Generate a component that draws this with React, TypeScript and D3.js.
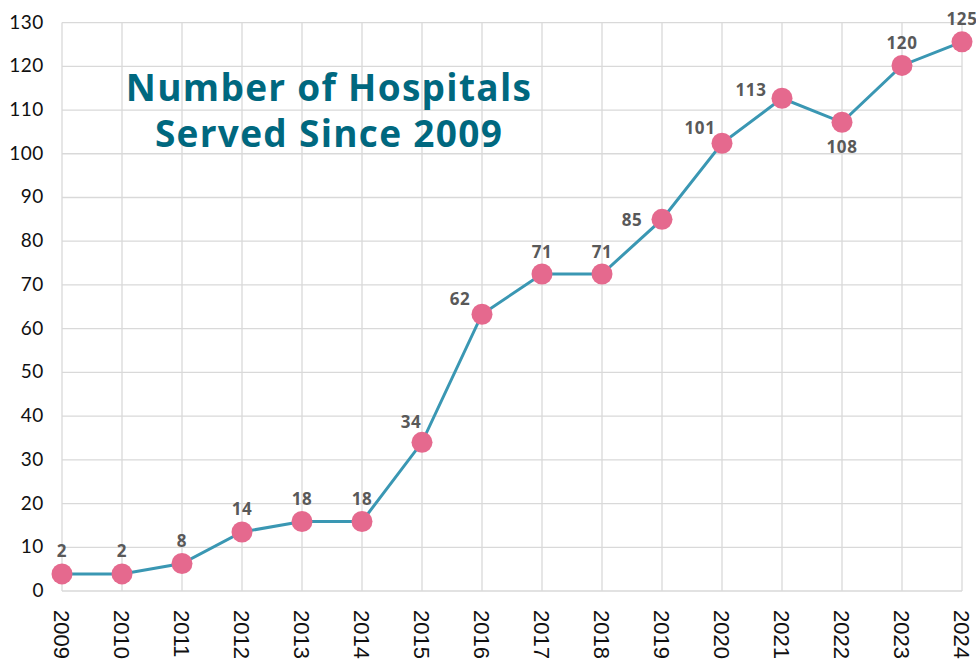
import React from "react";
import * as d3 from "d3";

const years = ["2009","2010","2011","2012","2013","2014","2015","2016","2017","2018","2019","2020","2021","2022","2023","2024"];
const plotted = [3.9, 3.9, 6.3, 13.5, 15.9, 15.9, 34, 63.3, 72.5, 72.5, 85, 102.4, 112.7, 107.2, 120.2, 125.6];
const labels = ["2","2","8","14","18","18","34","62","71","71","85","101","113","108","120","125"];
const labelPos = ["above","above","above","above","above","above","upLeftS","upLeft","above","above","left","upLeft","upLeft2","below","above","above"];
const yTicks = [0,10,20,30,40,50,60,70,80,90,100,110,120,130];
const titleLines = ["Number of Hospitals", "Served Since 2009"];

const W = 976, H = 667;
const left = 62, right = 962, top = 22.6, bottom = 591;

export default function App() {
  const x = d3.scalePoint<string>().domain(years).range([left, right]);
  const y = d3.scaleLinear().domain([0, 130]).range([bottom, top]);
  const line = d3.line<number>().x((_, i) => x(years[i])!).y(d => y(d));
  const offs: Record<string, [number, number]> = {
    above: [0, -23],
    upLeftS: [-11, -21],
    upLeft: [-22, -16],
    upLeft2: [-31, -9],
    left: [-30, 0],
    below: [0, 24],
  };
  return (
    <svg width={W} height={H} style={{ position: "absolute", left: 0, top: 0, background: "#fff" }}>
      <g>
        {yTicks.map(t => (
          <line key={"h" + t} x1={left} x2={right} y1={y(t)} y2={y(t)} stroke="#d9d9d9" strokeWidth={1.3} />
        ))}
        {years.map(yr => (
          <line key={"v" + yr} x1={x(yr)} x2={x(yr)} y1={top} y2={bottom} stroke="#d9d9d9" strokeWidth={1.3} />
        ))}
      </g>
      <g fontFamily="Lato, 'Open Sans', sans-serif" fontSize={19} fill="#111" letterSpacing={0.6}>
        {yTicks.map(t => (
          <text key={"yl" + t} x={44} y={y(t) - 1.5} textAnchor="end" dominantBaseline="central">{t}</text>
        ))}
      </g>
      <g fontFamily="'Liberation Sans', Arial, sans-serif" fontSize={22} fill="#111">
        {years.map(yr => (
          <text key={"xl" + yr} transform={`translate(${x(yr)! - 1},610) rotate(90)`} textAnchor="start" dominantBaseline="central">{yr}</text>
        ))}
      </g>
      <g fontFamily="'Open Sans', sans-serif" fontWeight={700} fontSize={37} fill="#00687f" textAnchor="middle" letterSpacing={1.3}>
        <text x={329} y={101}>{titleLines[0]}</text>
        <text x={329} y={147}>{titleLines[1]}</text>
      </g>
      <path d={line(plotted) || ""} fill="none" stroke="#3a97b3" strokeWidth={3} />
      {plotted.map((v, i) => (
        <circle key={"c" + i} cx={x(years[i])} cy={y(v)} r={10.5} fill="#e5698e" />
      ))}
      <g fontFamily="'Open Sans', sans-serif" fontWeight={700} fontSize={17} fill="#595959" textAnchor="middle" letterSpacing={0.6}>
        {plotted.map((v, i) => {
          const o = offs[labelPos[i]];
          return (
            <text key={"dl" + i} x={x(years[i])! + o[0]} y={y(v) + o[1]} dominantBaseline="central">{labels[i]}</text>
          );
        })}
      </g>
    </svg>
  );
}
